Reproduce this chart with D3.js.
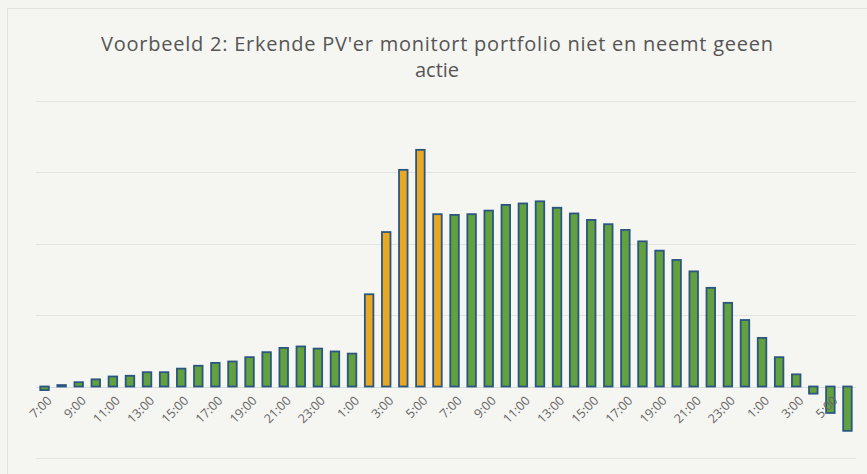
<!DOCTYPE html>
<html lang="nl">
<head>
<meta charset="utf-8">
<script src="https://cdnjs.cloudflare.com/ajax/libs/d3/7.8.5/d3.min.js"></script>
<style>
  body { margin: 0; background: #f4f4f0; }
  svg { display: block; }
  .title { font-family: "Open Sans", sans-serif; font-size: 20px; fill: #555555; }
  .xlab { font-family: "Open Sans", sans-serif; font-size: 12.5px; fill: #666666; }
</style>
</head>
<body>
<svg id="chart"></svg>
<script>
// 48 hours, starting at 7:00 on day 1
var categories = ["7:00","8:00","9:00","10:00","11:00","12:00","13:00","14:00","15:00","16:00",
  "17:00","18:00","19:00","20:00","21:00","22:00","23:00","0:00","1:00","2:00","3:00","4:00",
  "5:00","6:00","7:00","8:00","9:00","10:00","11:00","12:00","13:00","14:00","15:00","16:00",
  "17:00","18:00","19:00","20:00","21:00","22:00","23:00","0:00","1:00","2:00","3:00","4:00",
  "5:00","6:00"];
var values = [-0.05, 0.02, 0.06, 0.10, 0.14, 0.15, 0.20, 0.20, 0.25, 0.29,
  0.33, 0.35, 0.41, 0.48, 0.54, 0.56, 0.53, 0.49, 0.46, 1.29, 2.16, 3.03,
  3.31, 2.41, 2.40, 2.41, 2.46, 2.54, 2.56, 2.59, 2.50, 2.42, 2.33, 2.27,
  2.19, 2.03, 1.90, 1.77, 1.61, 1.38, 1.17, 0.93, 0.68, 0.41, 0.17, -0.10,
  -0.37, -0.62];
// bars drawn in orange (hours 2:00 - 6:00 of day 2)
var highlighted = [19, 20, 21, 22, 23];
var gridTicks = [-1, 0, 1, 2, 3, 4];
var titleLines = ["Voorbeeld 2: Erkende PV'er monitort portfolio niet en neemt geeen", "actie"];

var width = 867, height = 474;
var svg = d3.select("#chart").attr("width", width).attr("height", height);

// photo-like chart frame
svg.append("rect")
  .attr("x", 7.5).attr("y", 8.5)
  .attr("width", width).attr("height", height)
  .attr("fill", "#f5f5f1")
  .attr("stroke", "#e0e0dc");

var x = d3.scaleBand()
  .domain(d3.range(categories.length))
  .range([36, 856])
  .paddingInner(0.5)
  .paddingOuter(0.25);

var y = d3.scaleLinear()
  .domain([-1, 4])
  .range([458, 100.5]);

// gridlines
svg.append("g")
  .selectAll("line")
  .data(gridTicks)
  .enter().append("line")
  .attr("x1", 36).attr("x2", 856)
  .attr("y1", d => Math.round(y(d)) + 0.5)
  .attr("y2", d => Math.round(y(d)) + 0.5)
  .attr("stroke", d => d == 0 ? "#d3dde4" : "#e3e3df")
  .attr("stroke-width", 1.2);

// bars
svg.append("g")
  .selectAll("rect")
  .data(values)
  .enter().append("rect")
  .attr("x", (d, i) => x(i))
  .attr("width", x.bandwidth())
  .attr("y", d => y(Math.max(0, d)))
  .attr("height", d => Math.abs(y(d) - y(0)))
  .attr("fill", (d, i) => highlighted.indexOf(i) >= 0 ? "#e8a822" : "#62a13e")
  .attr("stroke", "#2b5680")
  .attr("stroke-width", 1.8);

// category labels, every second hour, rotated
var xAxis = d3.axisBottom(x)
  .tickValues(d3.range(0, categories.length, 2))
  .tickFormat(i => categories[i])
  .tickSize(0);

var gx = svg.append("g")
  .attr("transform", "translate(0," + y(0) + ")")
  .call(xAxis);
gx.select(".domain").remove();
gx.selectAll("text")
  .attr("class", "xlab")
  .attr("text-anchor", "end")
  .attr("dy", null)
  .attr("y", 0)
  .attr("transform", "translate(8,15) rotate(-45)");

// title
svg.append("g")
  .selectAll("text")
  .data(titleLines)
  .enter().append("text")
  .attr("class", "title")
  .attr("x", 437)
  .attr("y", (d, i) => 51 + i * 26)
  .attr("text-anchor", "middle")
  .attr("textLength", (d, i) => i == 0 ? 672 : null)
  .attr("lengthAdjust", "spacing")
  .text(d => d);
</script>
</body>
</html>
